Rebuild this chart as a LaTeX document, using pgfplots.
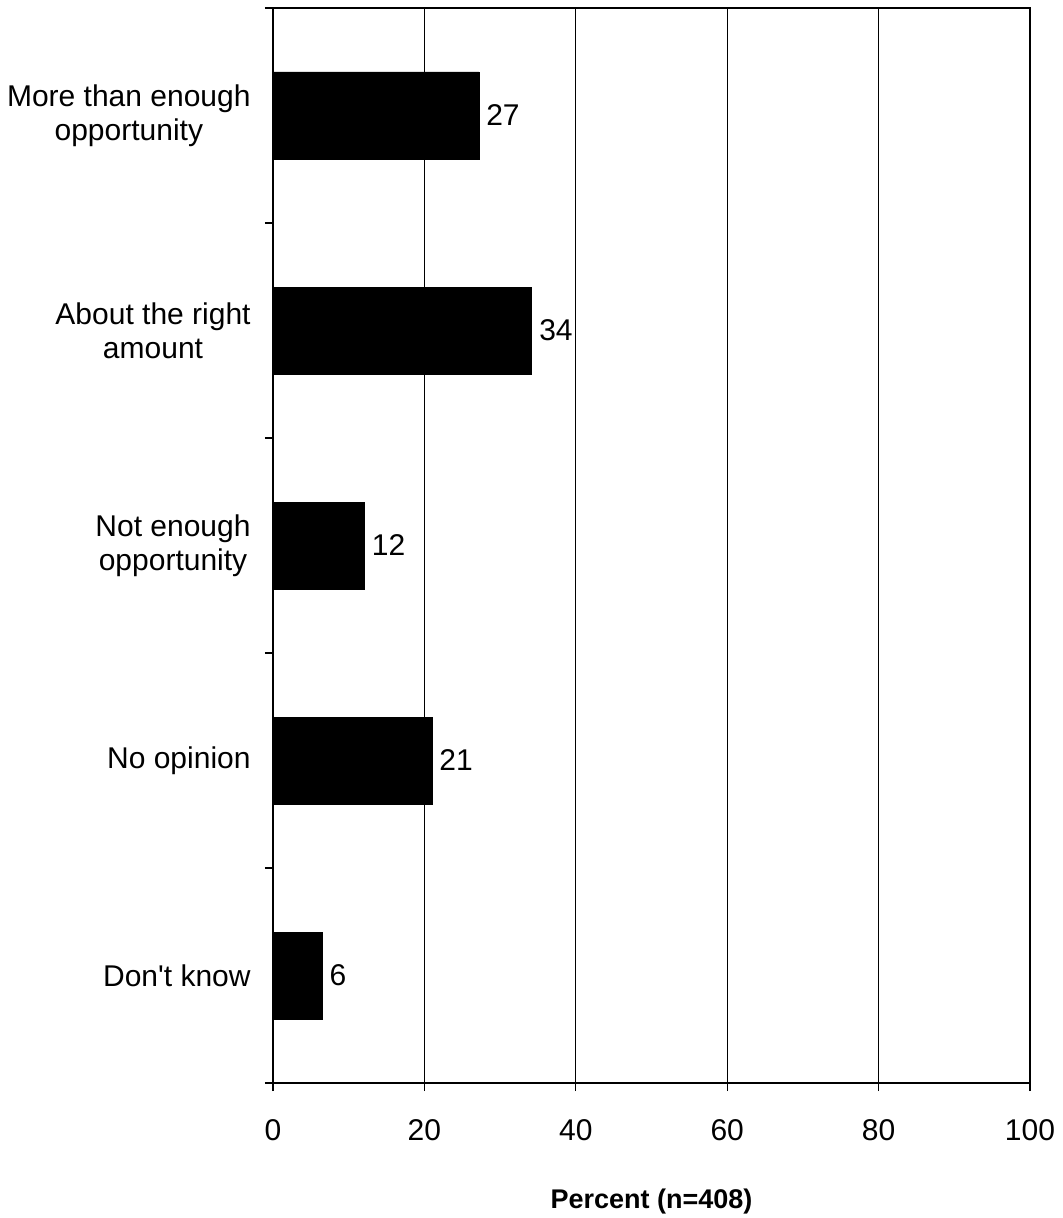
\documentclass[border=0pt]{standalone}
\usepackage{pgfplots}
\pgfplotsset{compat=1.18}
\usepackage{fontspec}
\setmainfont{Liberation Sans}
\begin{document}
\fontsize{15}{18}\selectfont
\begin{tikzpicture}
\path[use as bounding box] (-136.5pt,-67.5pt) rectangle (394.5pt,541.5pt);
\begin{axis}[
  at={(0,0)}, anchor=south west,
  scale only axis, width=378.5pt, height=537.5pt,
  xbar, bar width=43.5pt,
  xmin=0, xmax=100,
  ymin=-0.5, ymax=4.5, y dir=reverse,
  xtick={0,20,40,60,80,100},
  ytick={0,1,2,3,4},
  yticklabels={{More than enough\\opportunity},{About the right\\amount},{Not enough\\opportunity},{No opinion},{Don\textquotesingle t know}},
  minor ytick={-0.5,0.5,1.5,2.5,3.5,4.5},
  major y tick style={draw=none},
  tick align=outside,
  major tick length=4pt, minor tick length=4pt,
  xtick pos=bottom, ytick pos=left,
  tick style={black, line width=0.6pt},
  xmajorgrids, grid style={black, line width=0.5pt},
  axis line style={line width=1.25pt},
  yticklabel style={align=center, font=\fontsize{15}{17}\selectfont, xshift=-2pt},
  xticklabel style={font=\fontsize{15}{17}\selectfont, yshift=-9pt},
  /pgf/number format/assume math mode=true,
  xlabel={\textbf{Percent (n=408)}},
  xlabel style={font=\fontsize{13.5}{16}\selectfont, yshift=-14pt},
  nodes near coords,
  point meta=explicit symbolic,
  every node near coord/.append style={font=\fontsize{15}{17}\selectfont, anchor=west, xshift=-1.5pt},
]
\addplot[fill=black, draw=black] coordinates {
 (27.2,0) [27]
 (34.2,1) [34]
 (12.1,2) [12]
 (21.0,3) [21]
 (6.5,4) [6]
};
\end{axis}
\end{tikzpicture}
\end{document}
